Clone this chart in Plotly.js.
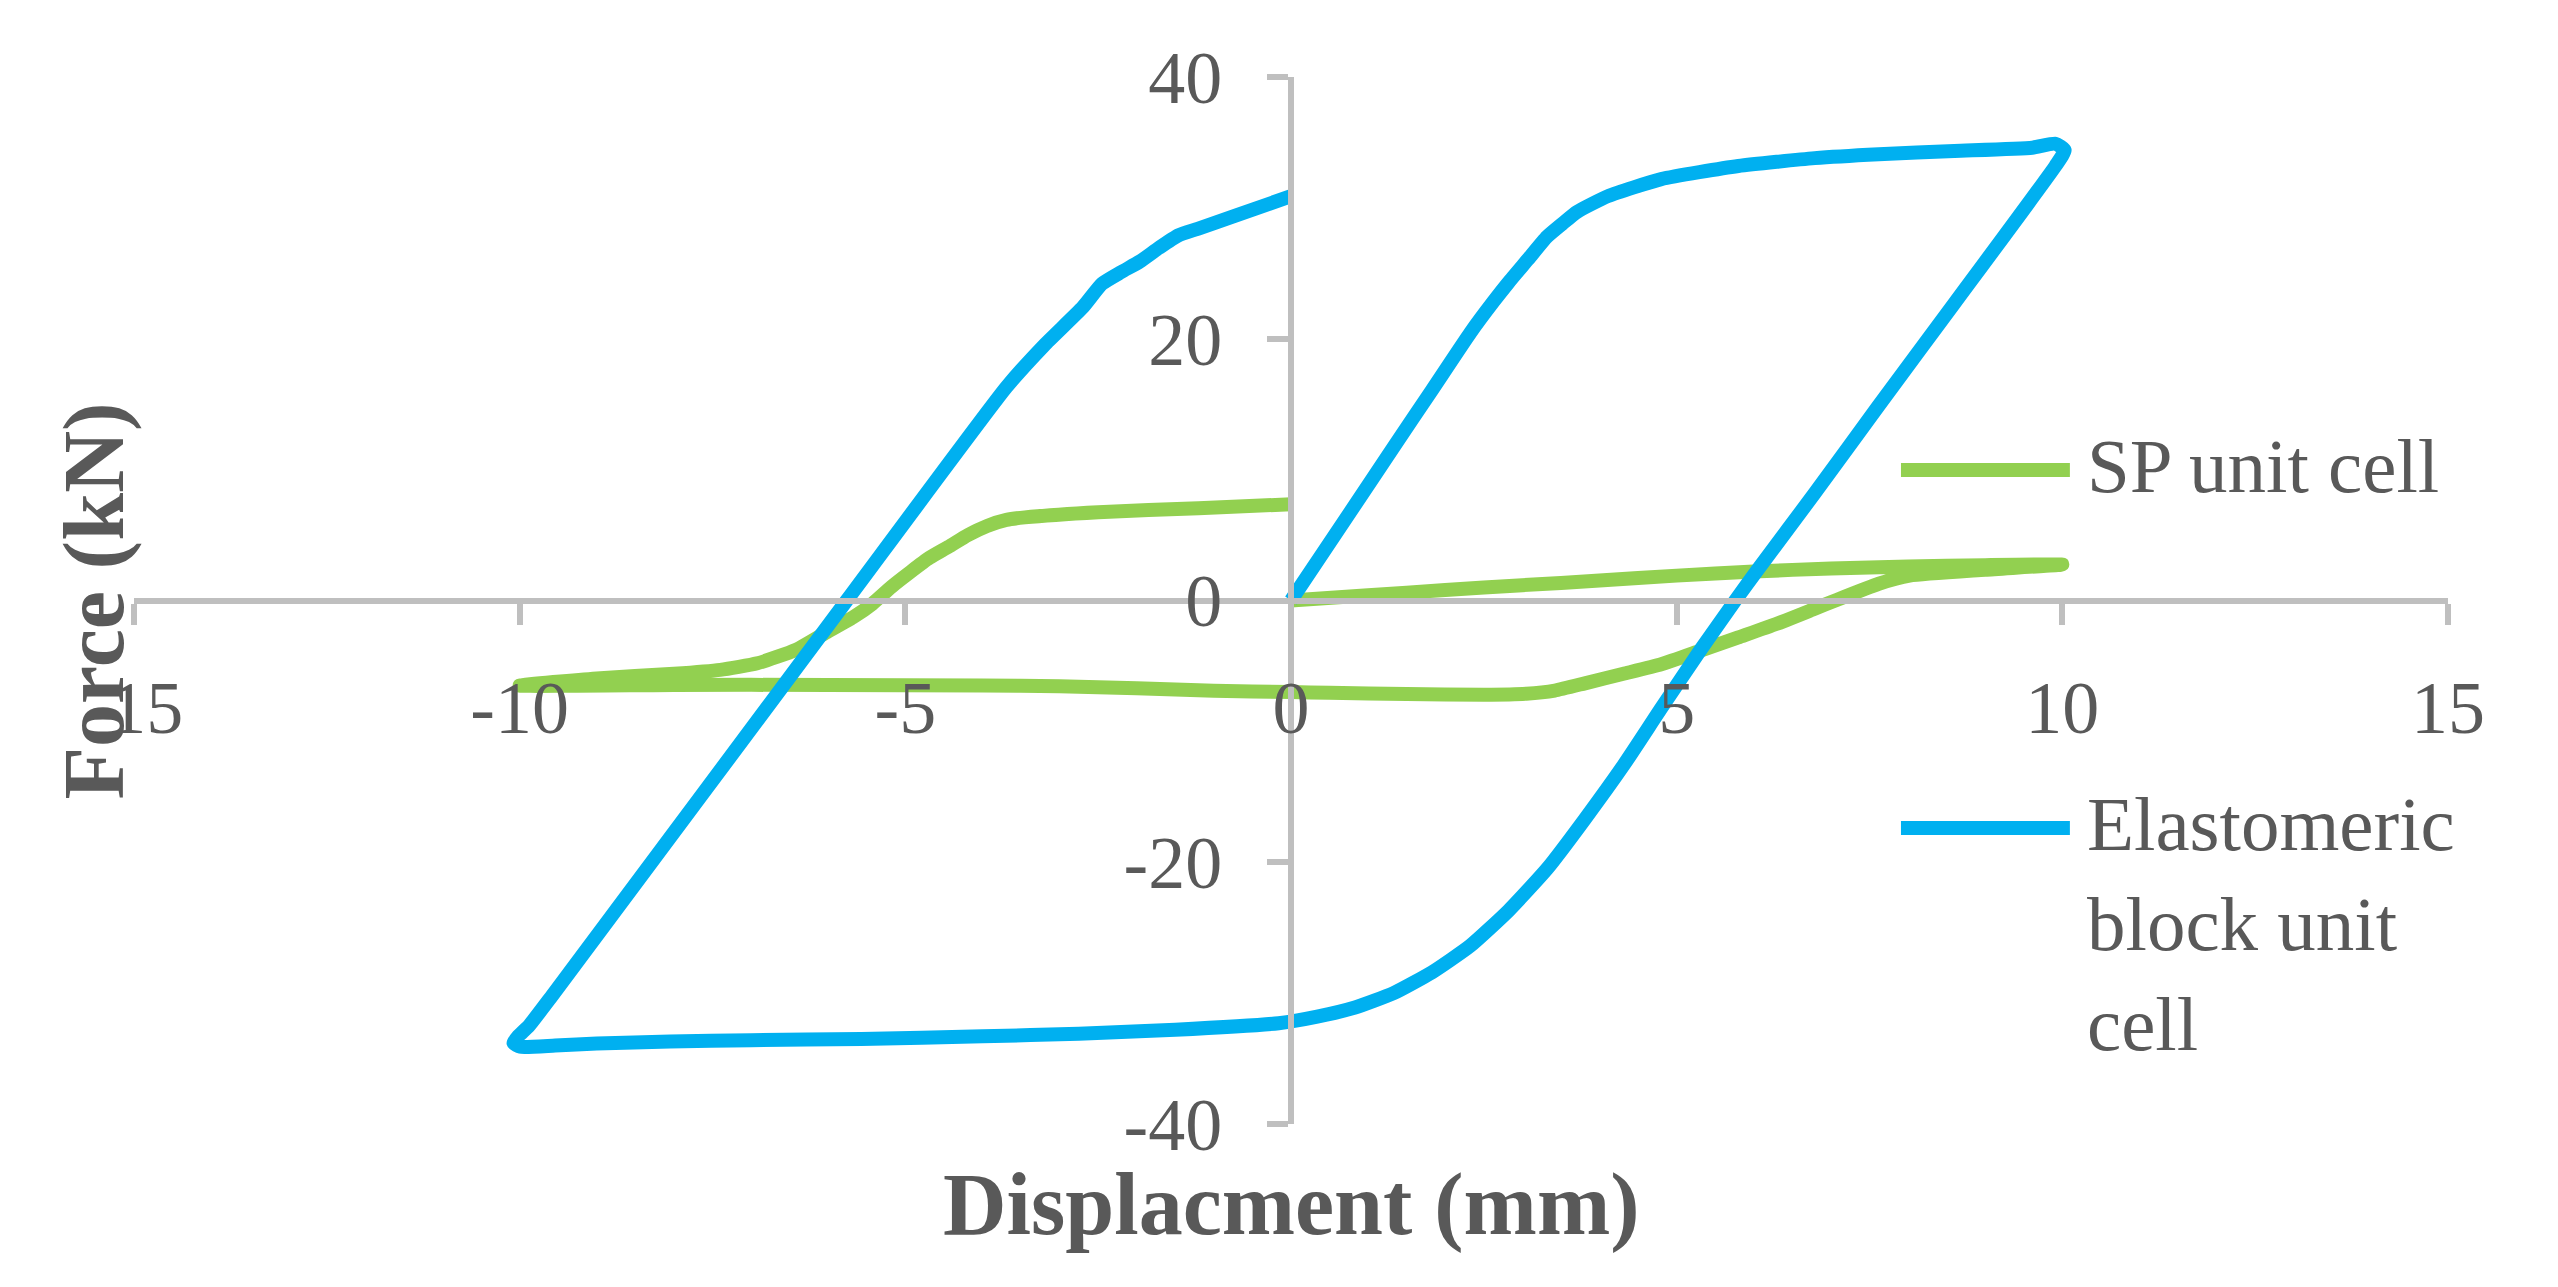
<!DOCTYPE html>
<html>
<head>
<meta charset="utf-8">
<script src="https://cdn.plot.ly/plotly-3.0.1.min.js"></script>
<style>
  html, body { margin: 0; padding: 0; background: #ffffff; }
  #chart { width: 2558px; height: 1287px; }
</style>
</head>
<body>
<div id="chart"></div>
<script>
// ---- Data ----
// SP unit cell: displacement (mm) and force (kN)
var spX = [0, 1, 2, 3, 4, 5, 6, 7, 8, 9, 10, 9, 8.02, 7.62, 7.04, 6.79, 6.29, 5.8, 5.3, 4.8, 4.31, 3.81, 3.42, 3.05, 2.5, 1.5, 0.5, 0, -1, -2, -3, -4, -6, -8, -10, -9, -8, -7.4, -6.92, -6.42, -6.03, -5.68, -5.43, -5.18, -4.93, -4.69, -4.44, -4.19, -3.94, -3.69, -3.45, -2.5, -1.2, 0];
var spY = [0, 0.4, 0.8, 1.17, 1.52, 1.9, 2.22, 2.45, 2.6, 2.7, 2.75, 2.35, 1.9, 1.28, -0.04, -0.63, -1.8, -2.82, -3.85, -4.87, -5.6, -6.33, -6.88, -7.12, -7.2, -7.15, -7.05, -7.0, -6.9, -6.7, -6.55, -6.5, -6.45, -6.45, -6.5, -5.95, -5.6, -5.3, -4.8, -3.77, -2.45, -1.29, -0.26, 1.05, 2.2, 3.25, 4.1, 5.0, 5.7, 6.16, 6.35, 6.75, 7.05, 7.35];

// Elastomeric block unit cell: displacement (mm) and force (kN)
var elX = [0, 0.83, 1.33, 1.83, 2.33, 2.62, 2.82, 3.07, 3.32, 3.52, 3.71, 4.11, 4.8, 5.8, 6.79, 7.62, 8.6, 9.61, 9.91, 10.03, 9.91, 8.6, 7.62, 6.79, 6.05, 5.76, 5.3, 4.8, 4.31, 3.81, 3.32, 2.82, 2.32, 1.83, 1.33, 0.83, 0.34, -0.16, -1.5, -2.75, -4, -5.57, -7, -8.05, -9.0, -9.54, -9.99, -10.08, -10.02, -9.88, -9.58, -5.76, -3.69, -3.2, -2.7, -2.45, -2.2, -1.96, -1.71, -1.46, -1.21, -0.72, 0];
var elY = [0, 7.3, 11.72, 16.1, 20.5, 22.8, 24.3, 26.05, 27.8, 28.8, 29.7, 30.9, 32.2, 33.2, 33.8, 34.1, 34.35, 34.6, 34.9, 34.4, 33.2, 22.7, 14.9, 8.2, 2.35, 0, -3.85, -8.23, -12.6, -16.7, -20.5, -23.7, -26.4, -28.4, -30.0, -31.1, -31.8, -32.3, -32.8, -33.1, -33.3, -33.5, -33.6, -33.7, -33.85, -34.0, -34.1, -33.8, -33.3, -32.5, -30.2, 0, 16.3, 19.5, 22.4, 24.2, 25.1, 25.9, 26.95, 27.9, 28.4, 29.4, 30.9];

// Axis ticks
var xTickVals = [-15, -10, -5, 0, 5, 10, 15];
var xTickText = ["-15", "-10", "-5", "0", "5", "10", "15"];
var yTickVals = [-40, -20, 0, 20, 40];
var yTickText = ["-40", "-20", "0", "20", "40"];

// Texts
var seriesNames = ["SP unit cell", "Elastomeric block unit cell"];
var legendLines1 = ["SP unit cell"];
var legendLines2 = ["Elastomeric", "block unit", "cell"];
var xTitle = "Displacment (mm)";
var yTitle = "Force (kN)";

// ---- Styling ----
var GREEN = "#92D050";
var BLUE = "#00B0F0";
var AXIS = "#BFBFBF";
var TEXT = "#595959";
var FONT = "'Liberation Serif', 'Times New Roman', serif";

var traces = [
  {
    x: spX, y: spY, name: seriesNames[0], type: "scatter", mode: "lines",
    line: { color: GREEN, width: 14, shape: "spline", smoothing: 0.5 },
    showlegend: false, hoverinfo: "x+y"
  },
  {
    x: elX, y: elY, name: seriesNames[1], type: "scatter", mode: "lines",
    line: { color: BLUE, width: 14, shape: "spline", smoothing: 0.5 },
    showlegend: false, hoverinfo: "x+y"
  }
];

var axisCommon = {
  showgrid: false, zeroline: false, showline: true,
  linecolor: AXIS, linewidth: 6,
  ticks: "outside", ticklen: 21, tickwidth: 6, tickcolor: AXIS,
  tickfont: { family: FONT, size: 74, color: TEXT },
  tickmode: "array", fixedrange: true
};

// legend geometry (paper coordinates)
var legX0 = 0.7636, legX1 = 0.8366, legTextX = 0.8431;
var legY1 = 0.6246, legY2 = 0.2827, legLineStep = 0.0955;

var annotations = [
  { text: xTitle, xref: "paper", yref: "paper", x: 0.5, y: -0.077, xanchor: "center", yanchor: "middle",
    showarrow: false, font: { family: FONT, size: 88, color: TEXT, weight: "bold" } },
  { text: yTitle, xref: "paper", yref: "paper", x: -0.0173, y: 0.5, xanchor: "center", yanchor: "middle",
    textangle: -90, showarrow: false, font: { family: FONT, size: 86, color: TEXT, weight: "bold" } },
  { text: legendLines1[0], xref: "paper", yref: "paper", x: legTextX, y: legY1 + 0.004, xanchor: "left", yanchor: "middle",
    showarrow: false, align: "left", font: { family: FONT, size: 77, color: TEXT } }
];
legendLines2.forEach(function (t, i) {
  annotations.push({ text: t, xref: "paper", yref: "paper", x: legTextX, y: legY2 + 0.004 - i * legLineStep,
    xanchor: "left", yanchor: "middle", showarrow: false, align: "left",
    font: { family: FONT, size: 77, color: TEXT } });
});

var layout = {
  width: 2558, height: 1287,
  margin: { l: 134, r: 110, t: 77, b: 163 },
  paper_bgcolor: "#ffffff", plot_bgcolor: "#ffffff",
  showlegend: false,
  xaxis: Object.assign({}, axisCommon, {
    range: [-15, 15], tickvals: xTickVals, ticktext: xTickText,
    anchor: "free", position: 0.5, ticklabelstandoff: 20
  }),
  yaxis: Object.assign({}, axisCommon, {
    range: [-40, 40], tickvals: yTickVals, ticktext: yTickText,
    anchor: "free", position: 0.5, ticklabelstandoff: 30
  }),
  shapes: [
    { type: "line", xref: "paper", yref: "paper", x0: legX0, x1: legX1, y0: legY1, y1: legY1,
      line: { color: GREEN, width: 14 } },
    { type: "line", xref: "paper", yref: "paper", x0: legX0, x1: legX1, y0: legY2, y1: legY2,
      line: { color: BLUE, width: 14 } }
  ],
  annotations: annotations
};

Plotly.newPlot("chart", traces, layout, { staticPlot: true, displayModeBar: false });
</script>
</body>
</html>
